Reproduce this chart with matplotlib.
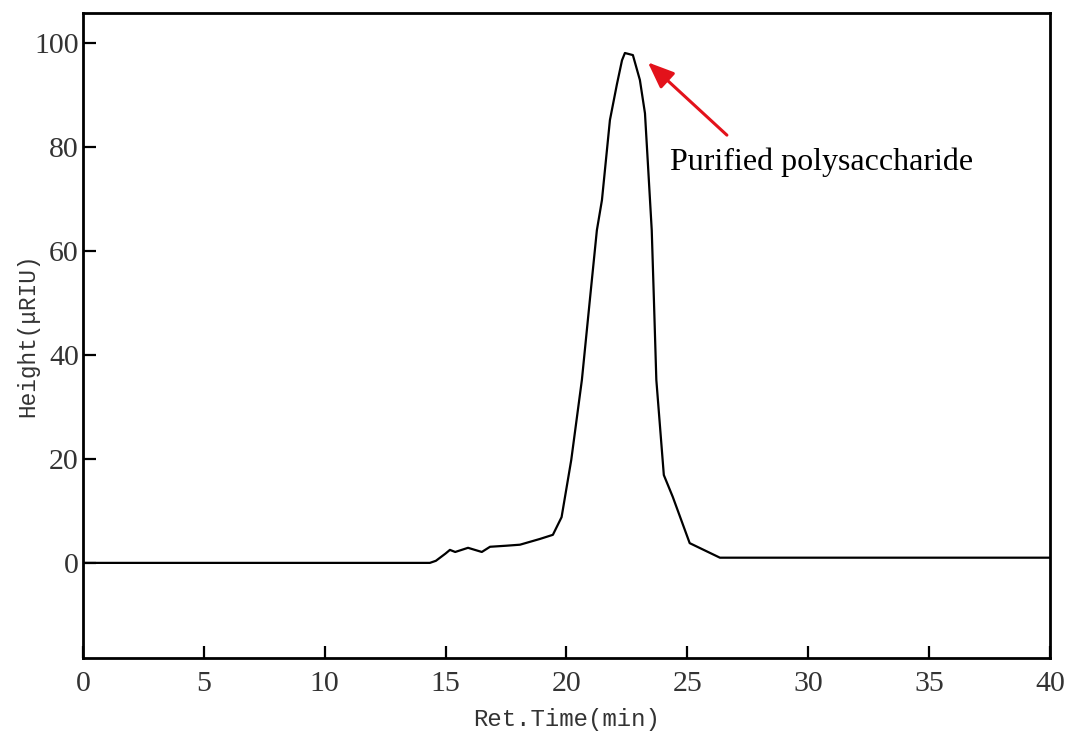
import numpy as np
import matplotlib
matplotlib.use("Agg")
import matplotlib.pyplot as plt

# Chromatogram trace
ret_time = [0, 14.35, 14.6, 15.0, 15.18, 15.4, 15.93, 16.5, 16.84, 17.5, 18.08,
            18.9, 19.44, 19.8, 20.2, 20.64, 20.97, 21.26, 21.47, 21.8, 22.09,
            22.3, 22.42, 22.75, 23.04, 23.25, 23.37, 23.53, 23.62, 23.72, 24.03,
            24.4, 25.1, 26.35, 40]
height = [0, 0, 0.4, 1.8, 2.5, 2.1, 2.9, 2.1, 3.1, 3.3, 3.5,
          4.6, 5.4, 8.8, 19.8, 35.2, 50.6, 64.0, 69.8, 85.2, 92.1,
          96.7, 98.1, 97.7, 92.9, 86.5, 76.9, 64.0, 50.6, 35.2, 16.9,
          12.7, 3.8, 1.0, 1.0]

x_ticks = [0, 5, 10, 15, 20, 25, 30, 35, 40]
y_ticks = [0, 20, 40, 60, 80, 100]

peak_label = "Purified polysaccharide"
peak_xy = (23.37, 96.3)
arrow_tail = (26.64, 82.3)
label_xy = (24.28, 77.1)

fig = plt.figure(figsize=(10.68, 7.38), dpi=100)
ax = fig.add_axes([0.0777, 0.1084, 0.9053, 0.874])

ax.plot(ret_time, height, color="black", lw=1.6)

ax.set_xlim(0, 40)
ax.set_ylim(-18.3, 105.8)
ax.set_xticks(x_ticks)
ax.set_yticks(y_ticks)
ax.tick_params(direction="in", length=9, width=1.6, labelsize=21.5, colors="black",
               labelcolor="#333333")
ax.tick_params(axis="x", pad=9)
ax.tick_params(axis="y", pad=3)
for lab in ax.get_xticklabels() + ax.get_yticklabels():
    lab.set_family("Liberation Serif")
for sp in ax.spines.values():
    sp.set_linewidth(2)

ax.set_xlabel("Ret.Time(min)", family="Liberation Mono", fontsize=17.3,
              color="#333333", labelpad=8)
ax.set_ylabel("Height(\u03bcRIU)", family="Liberation Mono", fontsize=16.4,
              color="#333333", labelpad=-3.5)

# arrow pointing at the peak
ax.annotate("", xy=peak_xy, xytext=arrow_tail,
            arrowprops=dict(arrowstyle="-|>,head_length=1.6,head_width=0.65",
                            color="#e3121b", lw=2.2, shrinkA=0, shrinkB=0))
ax.text(label_xy[0], label_xy[1], peak_label, family="Liberation Serif",
        fontsize=23, va="center", ha="left", color="black")

plt.savefig("out.png", dpi=100)
